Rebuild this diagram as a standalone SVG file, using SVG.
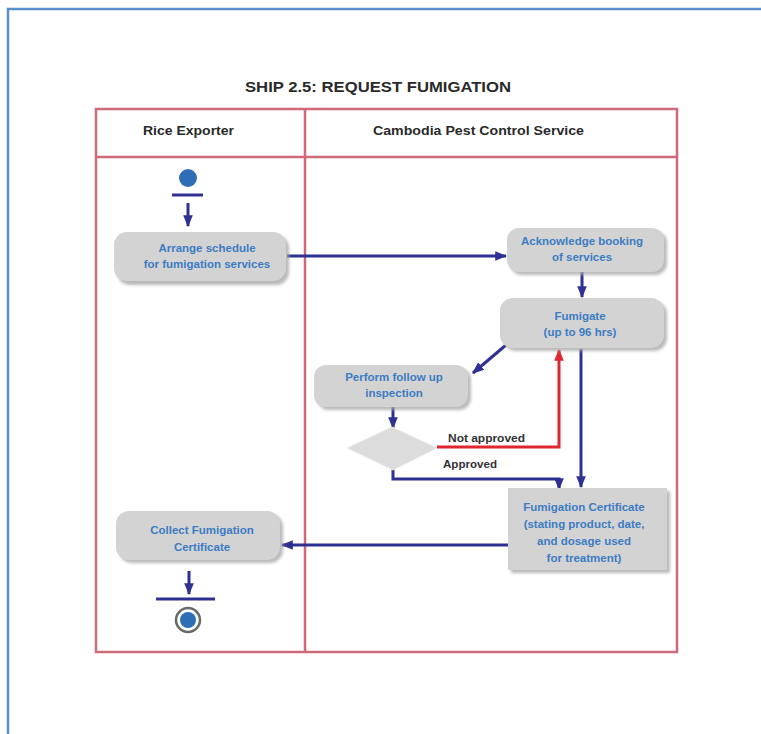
<svg xmlns="http://www.w3.org/2000/svg" width="761" height="734" viewBox="0 0 761 734">
  <style>
    .frame { fill: none; stroke: #5b8fd0; stroke-width: 2.5; }
    .pool { fill: none; stroke: #cf6a78; stroke-width: 2.5; }
    .title { font-family: "Liberation Sans", Arial, sans-serif; font-weight: bold; font-size: 15px; fill: #2a2a2a; }
    .lane { font-family: "Liberation Sans", Arial, sans-serif; font-weight: bold; font-size: 12px; fill: #2a2a2a; }
    .box { fill: #d3d3d3; }
    .shadow { fill: #a8a8a8; opacity: 0.8; }
    .lbl { font-family: "Liberation Sans", Arial, sans-serif; font-weight: bold; font-size: 11.5px; fill: #3c7cc3; text-anchor: middle; }
    .guard { font-family: "Liberation Sans", Arial, sans-serif; font-weight: bold; font-size: 11px; fill: #333333; }
    .flow { fill: none; stroke: #2e3192; stroke-width: 3; }
    .flow-red { fill: none; stroke: #e0262f; stroke-width: 3; }
  </style>
  <defs>
    <marker id="arrow" viewBox="0 0 10 10" refX="9" refY="5" markerWidth="4" markerHeight="4" orient="auto" markerUnits="strokeWidth">
      <path d="M0,1 L10,5 L0,9 Z" fill="#2e3192"/>
    </marker>
    <marker id="arrow-red" viewBox="0 0 10 10" refX="9" refY="5" markerWidth="4" markerHeight="4" orient="auto" markerUnits="strokeWidth">
      <path d="M0,1 L10,5 L0,9 Z" fill="#e0262f"/>
    </marker>
    <filter id="soft" x="-10%" y="-10%" width="130%" height="130%">
      <feGaussianBlur stdDeviation="1.5"/>
    </filter>
  </defs>

  <!-- page frame -->
  <path class="frame" d="M8,734 L8,9 L761,9"/>

  <!-- title -->
  <text class="title" x="245" y="92" textLength="266" lengthAdjust="spacingAndGlyphs">SHIP 2.5: REQUEST FUMIGATION</text>

  <!-- swimlane pool -->
  <g id="pool">
    <rect class="pool" x="96" y="109" width="581" height="543"/>
    <line class="pool" x1="96" y1="157" x2="677" y2="157"/>
    <line class="pool" x1="305" y1="109" x2="305" y2="652"/>
    <text class="lane" x="143" y="135" textLength="91" lengthAdjust="spacingAndGlyphs">Rice Exporter</text>
    <text class="lane" x="373" y="135" textLength="211" lengthAdjust="spacingAndGlyphs">Cambodia Pest Control Service</text>
  </g>

  <!-- connectors -->
  <g id="connectors">
    <line class="flow" x1="172" y1="195" x2="203" y2="195" stroke-width="2.5"/>
    <line class="flow" x1="188" y1="203" x2="188" y2="226" marker-end="url(#arrow)"/>
    <line class="flow" x1="287" y1="256" x2="506" y2="256" marker-end="url(#arrow)"/>
    <line class="flow" x1="582" y1="272" x2="582" y2="297" marker-end="url(#arrow)"/>
    <line class="flow" x1="506" y1="345" x2="473" y2="373" marker-end="url(#arrow)"/>
    <line class="flow" x1="393" y1="407" x2="393" y2="428" marker-end="url(#arrow)"/>
    <path class="flow-red" d="M437,447 L559,447 L559,350" marker-end="url(#arrow-red)"/>
    <path class="flow" d="M393,469 L393,479 L559,479 L559,489" marker-end="url(#arrow)"/>
    <line class="flow" x1="581" y1="349" x2="581" y2="487" marker-end="url(#arrow)"/>
    <line class="flow" x1="508" y1="545" x2="282" y2="545" marker-end="url(#arrow)"/>
    <line class="flow" x1="189" y1="571" x2="189" y2="594" marker-end="url(#arrow)"/>
    <line class="flow" x1="156" y1="599" x2="215" y2="599" stroke-width="2.5"/>
    <text class="guard" x="448" y="442" textLength="77" lengthAdjust="spacingAndGlyphs">Not approved</text>
    <text class="guard" x="443" y="468" textLength="54" lengthAdjust="spacingAndGlyphs">Approved</text>
  </g>

  <!-- start -->
  <g id="start">
    <circle cx="188" cy="178" r="9" fill="#2f6eb6"/>
  </g>

  <g id="arrange">
    <rect class="shadow" x="117" y="235" width="172" height="50" rx="13" filter="url(#soft)"/>
    <rect class="box" x="114" y="232" width="172" height="49" rx="13"/>
    <text class="lbl" x="207" y="252">Arrange schedule</text>
    <text class="lbl" x="207" y="268">for fumigation services</text>
  </g>

  <g id="acknowledge">
    <rect class="shadow" x="510" y="231" width="157" height="44" rx="12" filter="url(#soft)"/>
    <rect class="box" x="507" y="228" width="157" height="44" rx="12"/>
    <text class="lbl" x="582" y="245">Acknowledge booking</text>
    <text class="lbl" x="582" y="261">of services</text>
  </g>

  <g id="fumigate">
    <rect class="shadow" x="503" y="301" width="164" height="50" rx="13" filter="url(#soft)"/>
    <rect class="box" x="500" y="298" width="164" height="50" rx="13"/>
    <text class="lbl" x="580" y="320">Fumigate</text>
    <text class="lbl" x="580" y="336">(up to 96 hrs)</text>
  </g>

  <g id="inspection">
    <rect class="shadow" x="317" y="368" width="154" height="42" rx="12" filter="url(#soft)"/>
    <rect class="box" x="314" y="365" width="154" height="42" rx="12"/>
    <text class="lbl" x="394" y="381">Perform follow up</text>
    <text class="lbl" x="394" y="397">inspection</text>
  </g>

  <g id="decision">
    <path d="M392,427 L437,448 L393,470 L347,448 Z" fill="#dcdcdc" stroke="#ececec" stroke-width="1"/>
  </g>

  <g id="certificate">
    <rect class="shadow" x="511" y="491" width="159" height="82" filter="url(#soft)"/>
    <rect class="box" x="508" y="488" width="159" height="82"/>
    <text class="lbl" x="584" y="511">Fumigation Certificate</text>
    <text class="lbl" x="584" y="528">(stating product, date,</text>
    <text class="lbl" x="584" y="545">and dosage used</text>
    <text class="lbl" x="584" y="562">for treatment)</text>
  </g>

  <g id="collect">
    <rect class="shadow" x="119" y="514" width="164" height="49" rx="13" filter="url(#soft)"/>
    <rect class="box" x="116" y="511" width="164" height="49" rx="13"/>
    <text class="lbl" x="202" y="534">Collect Fumigation</text>
    <text class="lbl" x="202" y="551">Certificate</text>
  </g>

  <!-- end -->
  <g id="end">
    <circle cx="188" cy="620" r="12" fill="#ffffff" stroke="#6a6a6a" stroke-width="2.5"/>
    <circle cx="188" cy="620" r="8" fill="#2f6eb6"/>
  </g>
</svg>
